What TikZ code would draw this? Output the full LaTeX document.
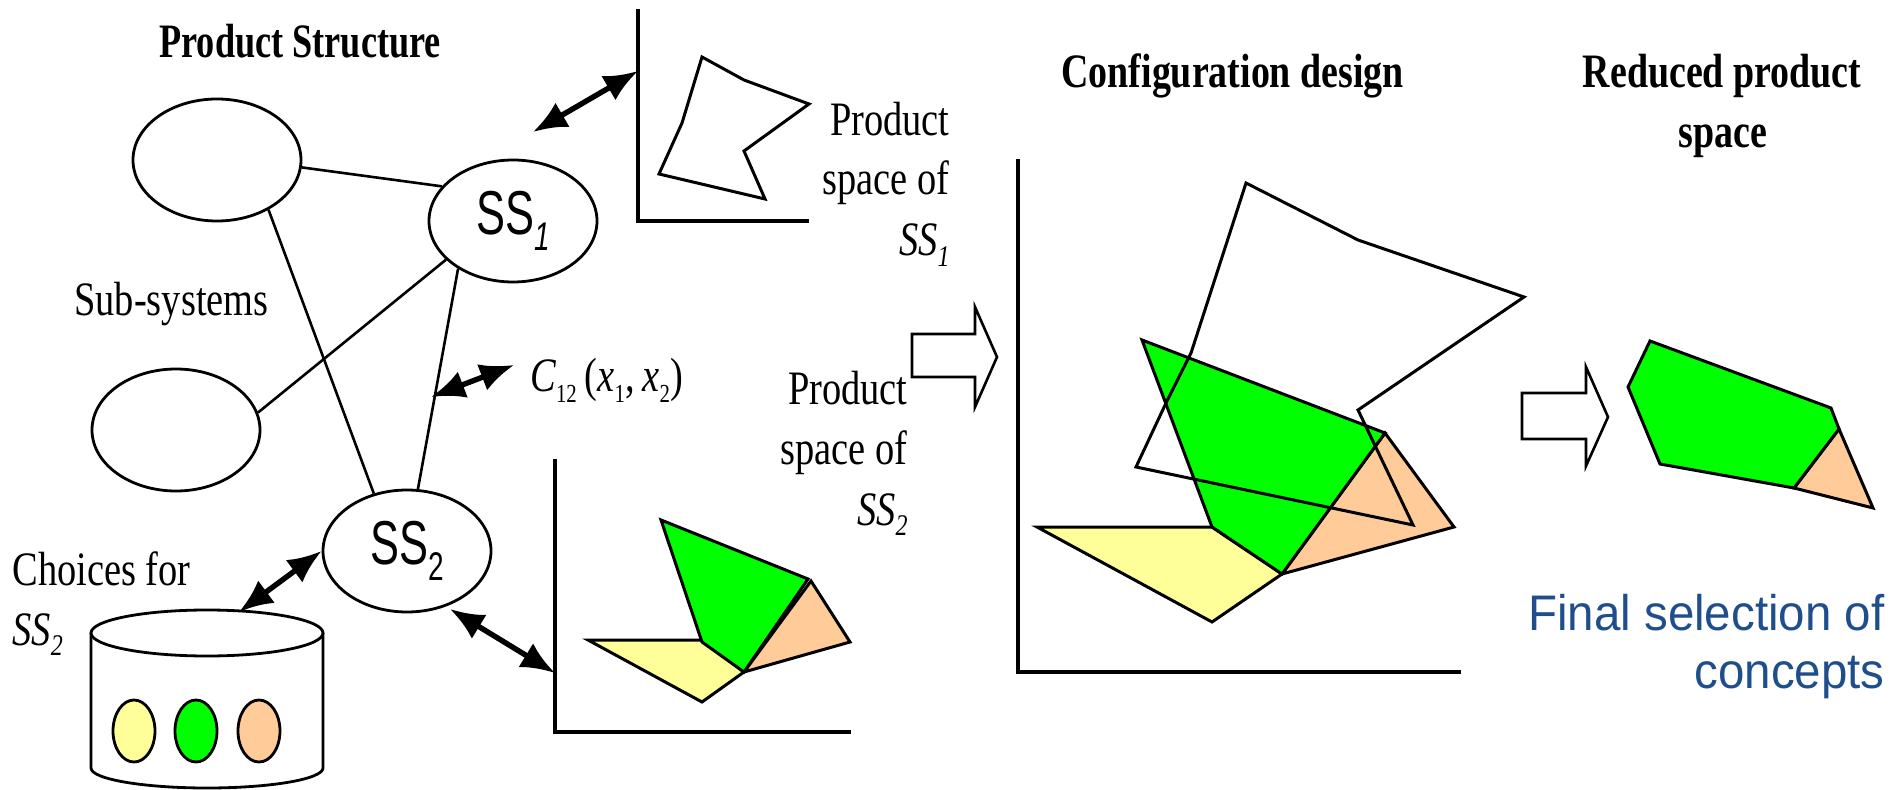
\documentclass[tikz,border=0pt]{standalone}
\usepackage{fontspec}
\usetikzlibrary{shapes.geometric,arrows.meta}
\setmainfont{Liberation Serif}
\newfontfamily\palfont[FakeStretch=0.80]{Liberation Serif}
\newfontfamily\palbfont[FakeStretch=0.79]{Liberation Serif Bold}
\newfontfamily\palbnfont[FakeStretch=0.755]{Liberation Serif Bold}
\newfontfamily\ssfont[FakeStretch=0.70]{Liberation Sans}
\newfontfamily\bluefont[FakeStretch=0.95]{Liberation Sans}
\newcommand{\lowsub}[1]{\raisebox{-0.22em}{\fontsize{15}{15}\selectfont #1}}
\newcommand{\tinysub}[1]{\raisebox{-0.22em}{\fontsize{13}{13}\selectfont #1}}
\newcommand{\bigsub}[1]{\raisebox{-0.25em}{\fontsize{20}{20}\selectfont #1}}
\definecolor{cyel}{RGB}{255,255,153}
\definecolor{cgrn}{RGB}{0,255,0}
\definecolor{cora}{RGB}{255,204,153}
\definecolor{cblu}{RGB}{31,78,140}
\tikzset{
  x=0.5pt,y=-0.5pt,
  bub/.style={draw,ellipse,line width=1.4pt,inner sep=0pt,minimum width=84pt,minimum height=61pt,fill=white},
  chip/.style={draw,ellipse,line width=1.4pt,inner sep=0pt,minimum width=21pt,minimum height=31pt},
  link/.style={line width=1.3pt},
  dbl/.style={line width=2.7pt,{Latex[length=17pt,width=14pt]}-{Latex[length=17pt,width=14pt]}},
  axis/.style={line width=1.6pt},
  poly/.style={line width=1.5pt,line join=miter},
  hollow/.style={line width=1.3pt,fill=white,line join=miter},
  pal/.style={font=\palfont\fontsize{24}{24}\selectfont,inner sep=0pt},
  palb/.style={font=\palbfont\fontsize{24}{24}\selectfont,inner sep=0pt},
  palbn/.style={font=\palbnfont\fontsize{24}{24}\selectfont,inner sep=0pt},
  blu/.style={font=\bluefont\fontsize{25}{25}\selectfont,text=cblu,inner sep=0pt,anchor=base east},
  ssn/.style={font=\ssfont\fontsize{31}{31}\selectfont},
}
\begin{document}
\begin{tikzpicture}
\useasboundingbox (0,0) rectangle (1893,790);
% axes
\coordinate (a1t) at (638,9); \coordinate (a1o) at (638,221); \coordinate (a1r) at (809,221);
\draw[axis] (a1t) -- (a1o) -- (a1r);
\coordinate (a2t) at (555,459); \coordinate (a2o) at (555,732); \coordinate (a2r) at (851,732);
\draw[axis] (a2t) -- (a2o) -- (a2r);
\coordinate (a3t) at (1018,159); \coordinate (a3o) at (1018,672); \coordinate (a3r) at (1461,672);
\draw[axis] (a3t) -- (a3o) -- (a3r);
% small product space of SS1
\draw[poly] (702,57) -- (744,80) -- (809,104) -- (744,151) -- (765,199) -- (659,174) -- (682,123) -- cycle;
% small product space of SS2
\draw[poly,fill=cyel] (588,640) -- (702,640) -- (744,672) -- (702,702) -- cycle;
\draw[poly,fill=cora] (811,581) -- (850,642) -- (744,672) -- cycle;
\draw[poly,fill=cgrn] (661,520) -- (808,579) -- (744,672) -- (702,642) -- cycle;
% configuration design
\draw[poly,fill=cyel] (1037,527) -- (1212,527) -- (1282,574) -- (1212,622) -- cycle;
\draw[poly,fill=cora] (1385,433) -- (1454,527) -- (1282,574) -- cycle;
\draw[poly,fill=cgrn] (1142,340) -- (1385,433) -- (1282,574) -- (1212,527) -- cycle;
\draw[poly] (1246,183) -- (1358,240) -- (1524,297) -- (1358,410) -- (1413,525) -- (1136,467) -- (1166,403) -- (1191,353) -- cycle;
% reduced space
\draw[poly,fill=cora] (1839,429) -- (1873,508) -- (1794,488) -- cycle;
\draw[poly,fill=cgrn] (1650,341) -- (1831,408) -- (1839,429) -- (1794,488) -- (1660,464) -- (1628,387) -- cycle;
% hollow arrows
\draw[hollow] (912,334) -- (975,334) -- (975,307) -- (997,357) -- (975,407) -- (975,377) -- (912,377) -- cycle;
\draw[hollow] (1522,393) -- (1586,393) -- (1586,367) -- (1608,417) -- (1586,466) -- (1586,439) -- (1522,439) -- cycle;
% bubbles
\node[bub] (e1) at (217,160) {};
\node[bub,ssn] (ss1) at (513,221) {SS\bigsub{\itshape 1}};
\node[bub] (e3) at (176,430) {};
\node[bub,ssn] (ss2) at (407,551) {SS\bigsub{2}};
\draw[link] (e1.-5) -- (ss1.154);
\draw[link] (e1.-44) -- (ss2.120);
\draw[link] (e3.12) -- (ss1.210);
\draw[link] (ss1.221) -- (ss2.80);
% cylinder
\draw[line width=1.4pt,fill=white] (91,633) -- (91,768) arc[start angle=180,end angle=360,x radius=58pt,y radius=10pt] -- (323,633);
\node[draw,ellipse,line width=1.4pt,inner sep=0pt,minimum width=116pt,minimum height=23pt,fill=white] (cyl) at (207,633) {};
\node[chip,fill=cyel] (c1) at (134,731) {};
\node[chip,fill=cgrn] (c2) at (196,731) {};
\node[chip,fill=cora] (c3) at (259,731) {};
% double arrows
\coordinate (f1) at (533,132);
\coordinate (f2) at (638,71);
\draw[dbl] (f1) -- (f2);
\coordinate (f3) at (431,397);
\coordinate (f4) at (514,365);
\draw[dbl] (f3) -- (f4);
\coordinate (f5) at (239,612);
\draw[dbl] (f5) -- (ss2.west);
\coordinate (f6) at (450,609);
\coordinate (f7) at (555,673);
\draw[dbl] (f6) -- (f7);
% texts
\node[palbn,anchor=base west] (t1) at (159,58) {Product Structure};
\node[pal,anchor=base west] (t2) at (74,316) {Sub-systems};
\node[pal,anchor=base east] (t3) at (950,136) {Product};
\node[pal,anchor=base east] (t4) at (950,195) {space of};
\node[pal,anchor=base east] (t5) at (950,256) {\itshape SS\lowsub{1}};
\node[pal,anchor=base east] (t6) at (908,405) {Product};
\node[pal,anchor=base east] (t7) at (908,465) {space of};
\node[pal,anchor=base east] (t8) at (908,525) {\itshape SS\lowsub{2}};
\node[pal,anchor=base west] (t9) at (12,585) {Choices for};
\node[pal,anchor=base west] (t10) at (12,645) {\itshape SS\lowsub{2}};
\node[pal,anchor=base west] (t11) at (530,392) {{\itshape C}\tinysub{12}\,({\itshape x}\tinysub{1},\,{\itshape x}\tinysub{2})};
\node[palb,anchor=base west] (t12) at (1061,88) {Configuration design};
\node[palb,anchor=base] (t13) at (1722,88) {Reduced product};
\node[palb,anchor=base] (t14) at (1723,148) {space};
\node[blu] (t15) at (1885,630) {Final selection of};
\node[blu] (t16) at (1885,688) {concepts};
\end{tikzpicture}
\end{document}
